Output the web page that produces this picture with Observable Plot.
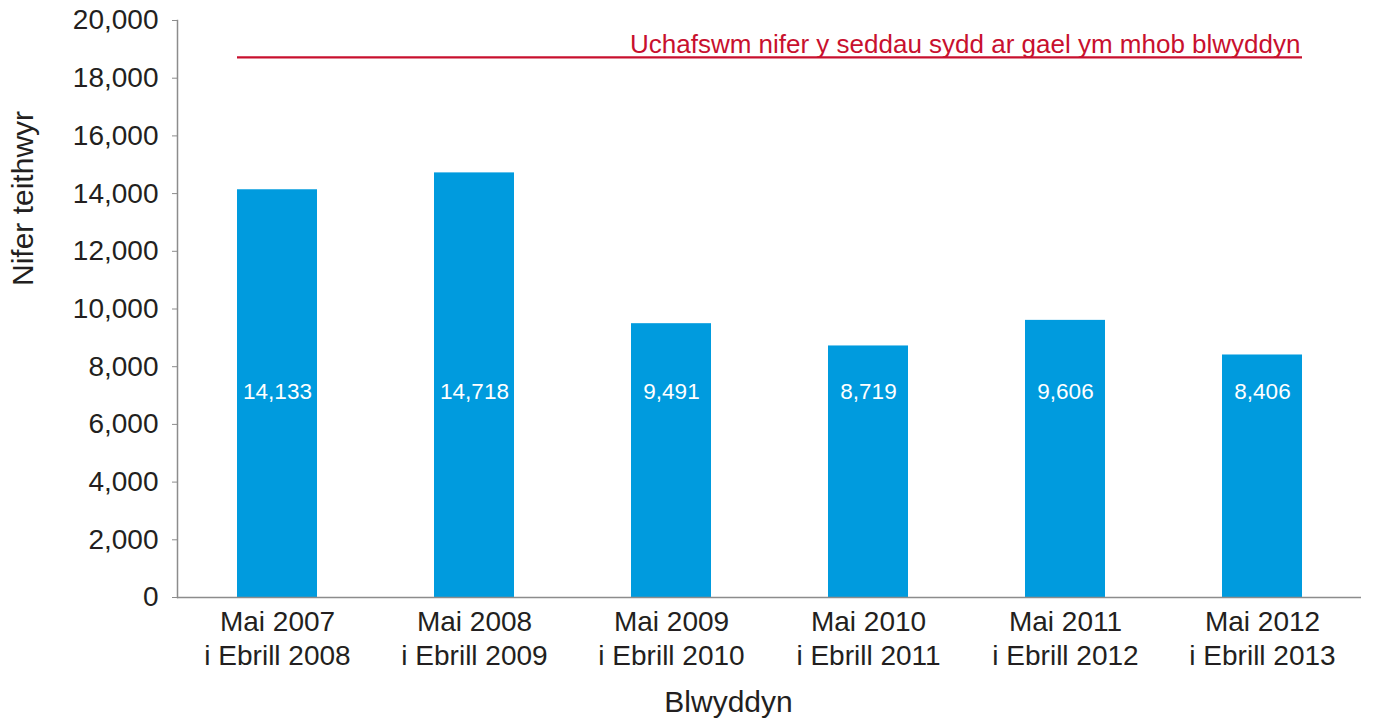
<!DOCTYPE html>
<html><head><meta charset="utf-8">
<script src="https://cdn.jsdelivr.net/npm/d3@7"></script>
<script src="https://cdn.jsdelivr.net/npm/@observablehq/plot@0.6"></script>
<style>body{margin:0;background:#fff;}</style>
</head><body><div id="chart"></div>
<script>
const periods = ["Mai 2007\ni Ebrill 2008", "Mai 2008\ni Ebrill 2009", "Mai 2009\ni Ebrill 2010", "Mai 2010\ni Ebrill 2011", "Mai 2011\ni Ebrill 2012", "Mai 2012\ni Ebrill 2013"];
const passengers = [14133, 14718, 9491, 8719, 9606, 8406];
const maxSeats = 18720;
const maxSeatsLabel = "Uchafswm nifer y seddau sydd ar gael ym mhob blwyddyn";
const yTicks = [0, 2000, 4000, 6000, 8000, 10000, 12000, 14000, 16000, 18000, 20000];
const yLabel = "Nifer teithwyr";
const xLabel = "Blwyddyn";

const data = periods.map((p, i) => ({period: p, value: passengers[i]}));
const fmt = d3.format(",");
const W = 1373, H = 722, ml = 177, mr = 12, mt = 20, mb = 125;
const axisColor = "#8c8c8c", textColor = "#231f20", red = "#c8102e";
const padIn = 0.595, padOut = 0.2975;
const firstPeriod = periods[0], lastPeriod = periods[periods.length - 1];

const boundaryTicks = Plot.ruleX([0], {
  render(index, scales, values, dims) {
    const x = scales.x;
    const bw = x.bandwidth();
    const step = x.step ? x.step() : bw / (1 - padIn);
    const start = x(firstPeriod) - (step - bw) / 2;
    const y0 = dims.height - dims.marginBottom;
    const g = d3.create("svg:g").attr("stroke", axisColor).attr("stroke-width", 1.5);
    for (let i = 0; i <= periods.length; i++) {
      const xx = start + i * step;
      g.append("line").attr("x1", xx).attr("x2", xx).attr("y1", y0).attr("y2", y0 + 6);
    }
    return g.node();
  }
});

const plot = Plot.plot({
  width: W, height: H, marginLeft: ml, marginRight: mr, marginTop: mt, marginBottom: mb,
  style: {fontFamily: "'Liberation Sans', Arial, sans-serif", color: textColor, background: "#fff"},
  x: {domain: periods, paddingInner: padIn, paddingOuter: padOut},
  y: {domain: [0, 20000]},
  marks: [
    Plot.barY(data, {x: "period", y: "value", fill: "#009bde"}),
    Plot.frame({anchor: "left", stroke: axisColor, strokeWidth: 1.5}),
    Plot.ruleY([0], {stroke: axisColor, strokeWidth: 1.5}),
    boundaryTicks,
    Plot.axisY({ticks: yTicks, tickFormat: fmt, tickSize: 5, tickPadding: 14, fontSize: 28, stroke: axisColor, fill: textColor, label: null}),
    Plot.axisX({tickSize: 0, tickPadding: 10, fontSize: 28, lineHeight: 1.2, fill: textColor, label: null}),
    Plot.text(data, {x: "period", y: 0, text: d => fmt(d.value), fill: "white", fontSize: 22.5, dy: -206}),
    Plot.ruleY([maxSeats], {x1: () => firstPeriod, x2: () => lastPeriod, stroke: red, strokeWidth: 2.2}),
    Plot.text([maxSeatsLabel], {x: () => lastPeriod, y: maxSeats, textAnchor: "end", lineAnchor: "bottom", dx: 38, dy: -4, fill: red, fontSize: 26}),
    Plot.text([yLabel], {frameAnchor: "left", lineAnchor: "middle", rotate: -90, dx: -154, dy: -23, fontSize: 30, fill: textColor}),
    Plot.text([xLabel], {frameAnchor: "bottom", lineAnchor: "middle", dx: -41, dy: 105, fontSize: 30, fill: textColor})
  ]
});
document.getElementById("chart").appendChild(plot);
</script>
</body></html>
